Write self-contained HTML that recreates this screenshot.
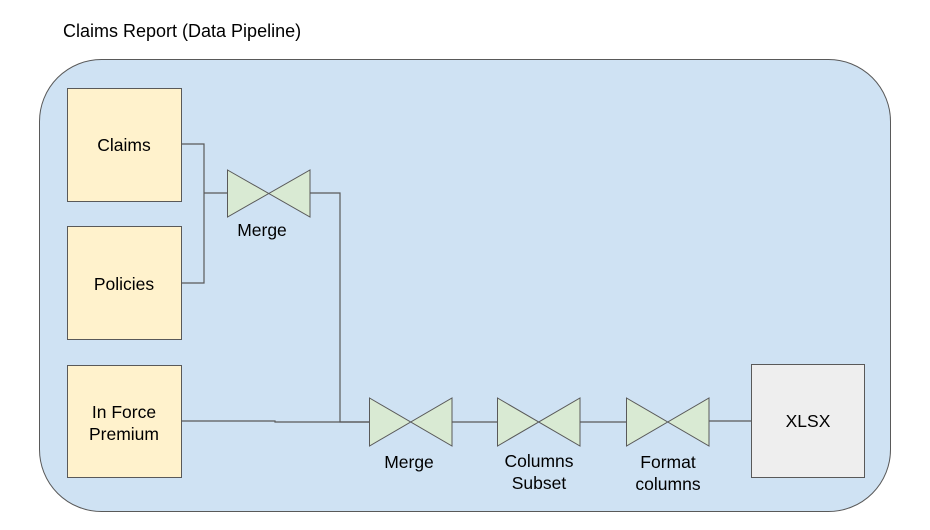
<!DOCTYPE html>
<html><head><meta charset="utf-8"><style>
html,body{margin:0;padding:0;background:#fff;width:930px;height:530px;overflow:hidden}
svg text{font-family:"Liberation Sans",Arial,sans-serif;fill:#000}
</style></head><body>
<svg width="930" height="530" viewBox="0 0 930 530" xmlns="http://www.w3.org/2000/svg">
<text x="63" y="37" font-size="18">Claims Report (Data Pipeline)</text>
<rect x="39.5" y="59.5" width="851" height="452" rx="62" ry="62" fill="#cfe2f3" stroke="#595959" stroke-width="1"/>
<g stroke="#595959" stroke-width="1" fill="#fff2cc">
<rect x="67.5" y="88.5" width="114" height="113"/>
<rect x="67.5" y="226.5" width="114" height="113"/>
<rect x="67.5" y="365.5" width="114" height="112"/>
</g>
<rect x="751.5" y="364.5" width="113" height="113" fill="#eeeeee" stroke="#595959"/>
<g fill="none" stroke="#595959" stroke-width="1.2">
<polyline points="181,144 204,144 204,283 181,283"/>
<line x1="204" y1="193" x2="227" y2="193"/>
<polyline points="310,193 340,193 340,422 369,422"/>
<polyline points="181,421 275,421 275,422 369,422"/>
<line x1="452" y1="422" x2="497" y2="422"/>
<line x1="580" y1="422" x2="626" y2="422"/>
<line x1="709" y1="421" x2="751" y2="421"/>
</g>
<g fill="#d9ead3" stroke="#595959" stroke-width="1">
<path d="M227.5,170 L310,217 L310,170 L227.5,217 Z"/>
<path d="M369.5,398 L452,446 L452,398 L369.5,446 Z"/>
<path d="M497.5,398 L580,446 L580,398 L497.5,446 Z"/>
<path d="M626.5,398 L709,446 L709,398 L626.5,446 Z"/>
</g>
<g font-size="17.5" text-anchor="middle">
<text x="124" y="151">Claims</text>
<text x="124" y="290">Policies</text>
<text x="124" y="418">In Force</text>
<text x="124" y="440">Premium</text>
<text x="808" y="427">XLSX</text>
<text x="262" y="236">Merge</text>
<text x="409" y="468">Merge</text>
<text x="539" y="467">Columns</text>
<text x="539" y="489">Subset</text>
<text x="668" y="468">Format</text>
<text x="668" y="490">columns</text>
</g>
</svg>
</body></html>
